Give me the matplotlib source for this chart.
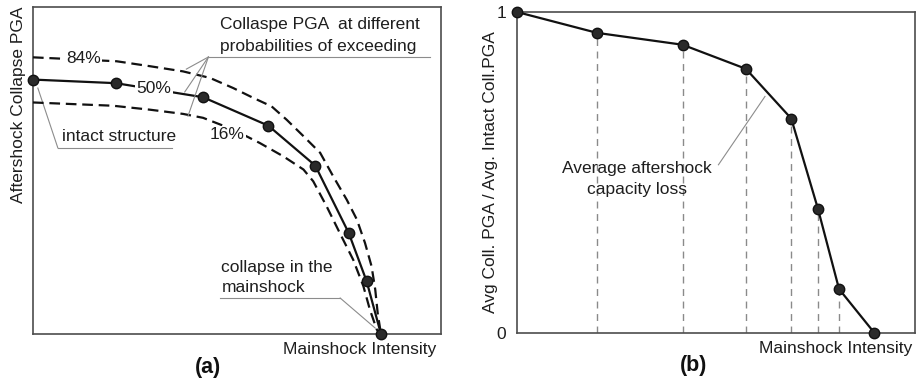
import matplotlib
matplotlib.use("Agg")
import matplotlib.pyplot as plt

plt.rcParams['font.family'] = ['Liberation Sans', 'DejaVu Sans']

# ---- panel (a): aftershock collapse PGA vs mainshock intensity (axes fractions) ----
a_x50 = [0.0, 0.203, 0.417, 0.577, 0.692, 0.774, 0.818, 0.853]
a_y50 = [0.778, 0.767, 0.724, 0.637, 0.515, 0.309, 0.161, 0.0]

a_x84 = [0.0, 0.205, 0.286, 0.368, 0.434, 0.491, 0.540, 0.585, 0.622, 0.663,
         0.704, 0.736, 0.769, 0.794, 0.814, 0.830, 0.839, 0.845, 0.853]
a_y84 = [0.846, 0.834, 0.819, 0.803, 0.783, 0.752, 0.722, 0.696, 0.655, 0.605,
         0.554, 0.482, 0.411, 0.350, 0.278, 0.207, 0.136, 0.064, 0.0]

a_x16 = [0.0, 0.196, 0.286, 0.368, 0.417, 0.491, 0.556, 0.614, 0.663, 0.687,
         0.720, 0.752, 0.785, 0.810, 0.826, 0.843, 0.853]
a_y16 = [0.708, 0.698, 0.686, 0.673, 0.661, 0.625, 0.584, 0.543, 0.503, 0.467,
         0.390, 0.309, 0.227, 0.146, 0.074, 0.013, 0.0]

pct_labels = ['84%', '50%', '16%']

# ---- panel (b): normalised average collapse PGA ----
b_x = [0.0, 0.201, 0.416, 0.575, 0.689, 0.756, 0.809, 0.898]
b_y = [1.0, 0.935, 0.898, 0.823, 0.668, 0.387, 0.137, 0.0]

b_ticks = [0, 1]
b_ticklabels = ['0', '1']

frame_col = '#4d4d4d'
txt_col = '#1e1e1e'
lead_col = '#8c8c8c'
fs = 12.5

fig = plt.figure(figsize=(9.18, 3.81), dpi=100)
axa = fig.add_axes([0.0359, 0.1234, 0.4444, 0.8583])
axb = fig.add_axes([0.5632, 0.1260, 0.4336, 0.8425])

for ax in (axa, axb):
    ax.set_xlim(0, 1)
    ax.set_ylim(0, 1)
    for s in ax.spines.values():
        s.set_color(frame_col)
        s.set_linewidth(1.2)

# panel (a)
axa.set_xticks([])
axa.set_yticks([])
dash = (4.8, 2.6)
axa.plot(a_x84, a_y84, color='#111111', lw=1.6, dashes=dash, zorder=3, clip_on=False)
axa.plot(a_x16, a_y16, color='#111111', lw=1.6, dashes=dash, zorder=3, clip_on=False)
axa.plot(a_x50, a_y50, color='#111111', lw=1.6, marker='o', ms=7.5,
         mfc='#2a2a2a', mec='#111111', zorder=4, clip_on=False)

bbox_w = dict(facecolor='white', edgecolor='none', pad=1.0)
axa.text(0.123, 0.842, pct_labels[0], fontsize=fs, color=txt_col, ha='center', va='center',
         bbox=bbox_w, zorder=5)
axa.text(0.296, 0.752, pct_labels[1], fontsize=fs, color=txt_col, ha='center', va='center',
         bbox=bbox_w, zorder=5)
axa.text(0.477, 0.610, pct_labels[2], fontsize=fs, color=txt_col, ha='center', va='center',
         bbox=bbox_w, zorder=5)

# leader for the probability curves
axa.text(0.458, 0.946, 'Collaspe PGA  at different', fontsize=fs, color=txt_col,
         ha='left', va='center', zorder=6)
axa.text(0.458, 0.880, 'probabilities of exceeding', fontsize=fs, color=txt_col,
         ha='left', va='center', zorder=6)
axa.plot([0.430, 0.974], [0.847, 0.847], color=lead_col, lw=0.8, zorder=2)
for tx, ty in [(0.376, 0.810), (0.372, 0.740), (0.380, 0.666)]:
    axa.plot([0.430, tx], [0.847, ty], color=lead_col, lw=0.8, zorder=6)

# intact structure
axa.text(0.070, 0.604, 'intact structure', fontsize=fs, color=txt_col, ha='left', va='center')
axa.plot([0.061, 0.340], [0.569, 0.569], color=lead_col, lw=0.8)
axa.plot([0.061, 0.012], [0.569, 0.752], color=lead_col, lw=0.8)

# collapse in the mainshock
axa.text(0.462, 0.202, 'collapse in the', fontsize=fs, color=txt_col, ha='left', va='center')
axa.text(0.462, 0.141, 'mainshock', fontsize=fs, color=txt_col, ha='left', va='center')
axa.plot([0.458, 0.753], [0.110, 0.110], color=lead_col, lw=0.8)
axa.plot([0.753, 0.839], [0.110, 0.018], color=lead_col, lw=0.8)

axa.text(0.988, -0.025, 'Mainshock Intensity', fontsize=fs, color=txt_col,
         ha='right', va='top', transform=axa.transAxes)
axa.text(-0.035, 1.0, 'Aftershock Collapse PGA', fontsize=fs, color=txt_col, rotation=90,
         ha='center', va='top', transform=axa.transAxes)
fig.text(208 / 918, 1 - 367 / 381, '(a)', fontsize=15.5, fontweight='bold', color='#111111',
         ha='center', va='center')

# panel (b)
axb.set_xticks([])
axb.set_yticks(b_ticks)
axb.set_yticklabels(b_ticklabels, fontsize=fs, color=txt_col)
axb.tick_params(axis='y', length=0, pad=8)
for xv, yv in zip(b_x[1:-1], b_y[1:-1]):
    axb.plot([xv, xv], [0, yv], color='#8a8a8a', lw=1.0, dashes=(5, 4), zorder=2)
axb.plot(b_x, b_y, color='#111111', lw=1.6, marker='o', ms=7.5,
         mfc='#2a2a2a', mec='#111111', zorder=4, clip_on=False)

axb.text(0.301, 0.514, 'Average aftershock', fontsize=fs, color=txt_col, ha='center', va='center')
axb.text(0.301, 0.447, 'capacity loss', fontsize=fs, color=txt_col, ha='center', va='center')
axb.plot([0.506, 0.623], [0.524, 0.737], color=lead_col, lw=0.8)

axb.text(0.993, -0.025, 'Mainshock Intensity', fontsize=fs, color=txt_col,
         ha='right', va='top', transform=axb.transAxes)
axb.text(-0.066, 0.5, 'Avg Coll. PGA / Avg. Intact Coll.PGA', fontsize=fs, color=txt_col,
         rotation=90, ha='center', va='center', transform=axb.transAxes)
fig.text(694 / 918, 1 - 366 / 381, '(b)', fontsize=15.5, fontweight='bold', color='#111111',
         ha='center', va='center')

fig.savefig('out.png', dpi=100, facecolor='white')
